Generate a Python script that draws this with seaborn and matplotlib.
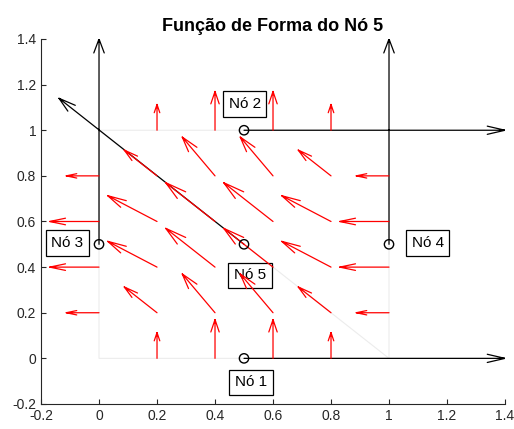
import numpy as np
import matplotlib
matplotlib.use('Agg')
import matplotlib.pyplot as plt
import seaborn as sns

# pontos da grade do campo vetorial (setas vermelhas)
grid_x = [0.0, 0.2, 0.4, 0.6, 0.8, 1.0]
grid_y = [0.0, 0.2, 0.4, 0.6, 0.8, 1.0]
# componentes (linha = y, coluna = x)
U = [[0, 0, 0, 0, 0, 0],
     [-0.113, -0.113, -0.113, -0.113, -0.113, -0.113],
     [-0.17, -0.17, -0.17, -0.17, -0.17, -0.17],
     [-0.17, -0.17, -0.17, -0.17, -0.17, -0.17],
     [-0.113, -0.113, -0.113, -0.113, -0.113, -0.113],
     [0, 0, 0, 0, 0, 0]]
V = [[0, 0.113, 0.17, 0.17, 0.113, 0],
     [0, 0.113, 0.17, 0.17, 0.113, 0],
     [0, 0.113, 0.17, 0.17, 0.113, 0],
     [0, 0.113, 0.17, 0.17, 0.113, 0],
     [0, 0.113, 0.17, 0.17, 0.113, 0],
     [0, 0.113, 0.17, 0.17, 0.113, 0]]

# nos do elemento
nos_x = [0.5, 0.5, 0.0, 1.0, 0.5]
nos_y = [0.0, 1.0, 0.5, 0.5, 0.5]
nos_nome = ['Nó 1', 'Nó 2', 'Nó 3', 'Nó 4', 'Nó 5']
# vetores pretos saindo dos nos
vet_u = [0.9, 0.9, 0.0, 0.0, -0.638]
vet_v = [0.0, 0.0, 0.9, 0.9, 0.64]
# posicao dos rotulos
rot_x = [0.524, 0.502, -0.109, 1.133, 0.52]
rot_y = [-0.105, 1.114, 0.507, 0.507, 0.364]

# malha (contorno do quadrado + diagonal)
malha_x = [1, 0, 0, 1, 1, 0]
malha_y = [0, 1, 0, 0, 1, 1]

ticks = [-0.2, 0, 0.2, 0.4, 0.6, 0.8, 1.0, 1.2, 1.4]
tick_lab = ['-0.2', '0', '0.2', '0.4', '0.6', '0.8', '1', '1.2', '1.4']


def setas(x, y, u, v, hl, hw):
    # segmentos da haste + ponta aberta (estilo quiver do octave)
    xs, ys = [], []
    for x0, y0, du, dv in zip(x, y, u, v):
        L = np.hypot(du, dv)
        if L == 0:
            continue
        xt, yt = x0 + du, y0 + dv
        bx, by = -du / L, -dv / L
        px, py = -by, bx
        b1x = xt + hl * L * bx + hw * L * px
        b1y = yt + hl * L * by + hw * L * py
        b2x = xt + hl * L * bx - hw * L * px
        b2y = yt + hl * L * by - hw * L * py
        xs += [x0, xt, np.nan, b1x, xt, b2x, np.nan]
        ys += [y0, yt, np.nan, b1y, yt, b2y, np.nan]
    return xs, ys


sns.set_style('ticks', {'xtick.direction': 'in', 'ytick.direction': 'in'})
plt.rcParams['font.family'] = ['Liberation Sans', 'DejaVu Sans']

fig = plt.figure(figsize=(5.14, 4.29), dpi=100)
ax = fig.add_axes([0.0798, 0.0583, 0.9027, 0.8508])

ax.plot(malha_x, malha_y, color='#ececec', lw=0.8, zorder=1)

gx, gy = np.meshgrid(grid_x, grid_y)
rx, ry = setas(gx.ravel(), gy.ravel(), np.array(U).ravel(), np.array(V).ravel(), 0.32, 0.085)
ax.plot(rx, ry, color='red', lw=0.9, zorder=3)

bx, by = setas(nos_x, nos_y, vet_u, vet_v, 0.068, 0.02)
ax.plot(bx, by, color='black', lw=0.9, zorder=2)

sns.scatterplot(x=nos_x, y=nos_y, ax=ax, s=45, fc='none', ec='black', linewidth=1, zorder=5)

for tx, ty, nome in zip(rot_x, rot_y, nos_nome):
    ax.text(tx, ty, nome, ha='center', va='center', fontsize=11, zorder=1.5, color='black',
            bbox=dict(boxstyle='square,pad=0.38', fc='white', ec='black', lw=0.9))

ax.set_xlim(-0.2, 1.4)
ax.set_ylim(-0.2, 1.4)
ax.set_xticks(ticks)
ax.set_xticklabels(tick_lab)
ax.set_yticks(ticks)
ax.set_yticklabels(tick_lab)
ax.tick_params(labelsize=10, length=3.5, width=0.8, colors='#262626')
sns.despine(ax=ax)
for s in ['left', 'bottom']:
    ax.spines[s].set_color('#262626')
    ax.spines[s].set_linewidth(0.8)

ax.set_title('Função de Forma do Nó 5', fontsize=13, fontweight='bold', pad=6, color='black')

fig.savefig('out.png', dpi=100)
